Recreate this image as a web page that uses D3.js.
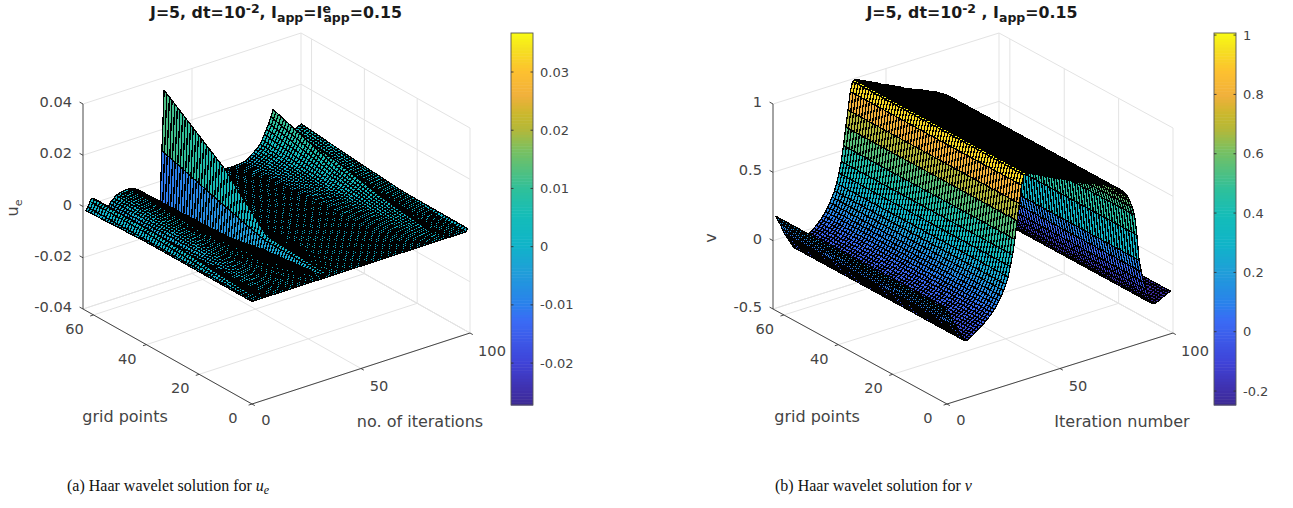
<!DOCTYPE html>
<html>
<head>
<meta charset="utf-8">
<script src="https://cdn.jsdelivr.net/npm/d3@7"></script>
<style>
  html, body { margin: 0; padding: 0; background: #fff; }
  text { font-family: "DejaVu Sans", sans-serif; fill: #444; }
</style>
</head>
<body>
<svg id="chart" width="1293" height="508"></svg>
<script>
// mesh axes
var iterations = d3.range(0, 100);
var gridPoints = d3.range(0, 64);

// u_e, one value per iteration
// the mesh rows between these grid lines are blended by a d3 scale
var ueStations = [0, 24, 40, 63];
var ueAtGrid0 = [
  0,0,0,0,0,0,0,0,0,0, 0,0,0,0,0,0,0,0,0,0, 0,0,0,0,0,0,0,0,0,0, 0,0,0,0,0,0,0,0,0,0,
  0,0,0,0,0,0,0,0,0,0, 0,0,0,0,0,0,0,0,0,0, 0,0,0,0,0,0,0,0,0,0, 0,0,0,0,0,0,0,0,0,0,
  0,0,0,0,0,0,0,0,0,0, 0,0,0,0,0,0,0,0,0,.001
];
var ueAtGrid24 = [
  0,0,.001,.002,.0015,0,-.0008,-.0014,-.0016,-.0016,
  -.0012,-.0006,-.0002,.0001,.0003,.0004,.0005,.0005,.0005,.0005,
  .0005,.0004,.0003,.0002,.0001,-.0001,-.0003,-.0005,-.0008,-.0012,
  -.0016,-.002,-.0024,-.0027,-.003,.0002,.0015,.0012,.0008,.0004,
  .0001,-.0001,-.0003,-.0005,-.0005,-.0005,-.0005,-.0005,-.0005,-.0005,
  -.0005,-.0005,-.0005,-.0005,-.0005,-.0005,-.0005,-.0005,-.0005,-.0005,
  -.0005,-.0005,-.0005,-.0005,-.0005,-.0005,-.0005,-.0005,-.0005,-.0005,
  -.0005,-.0005,-.0005,-.0004,-.0003,-.0002,-.0001,0,.0001,.0003,
  .0005,.0008,.0012,.0018,.0022,.0026,.0031,.0037,.0025,.0018,
  .0013,.001,.0008,.0008,.0008,.0009,.001,.0011,.0011,.0012
];
var ueAtGrid40 = [
  0,0,.002,.003,.0025,0,-.0015,-.0025,-.003,-.003,
  -.0022,-.001,-.0003,.0002,.0006,.0009,.001,.0012,.0012,.0012,
  .0012,.001,.0008,.0005,.0002,-.0002,-.0006,-.001,-.0016,-.0026,
  -.0038,-.0046,-.0055,-.0062,-.0065,.005,.0185,.013,.008,.004,
  .0015,.0003,-.0005,-.001,-.0012,-.0012,-.0012,-.0012,-.0012,-.0012,
  -.0012,-.0012,-.0012,-.0012,-.0012,-.0012,-.0012,-.0012,-.0012,-.0012,
  -.0012,-.0012,-.0012,-.0012,-.0012,-.0012,-.0012,-.0012,-.0012,-.0012,
  -.0012,-.0012,-.0012,-.001,-.0008,-.0005,-.0003,0,.0003,.0006,
  .001,.0016,.0025,.0036,.0045,.0053,.0064,.0075,.0055,.0042,
  .0032,.0024,.002,.0018,.0018,.002,.0022,.0024,.0026,.0027
];
var ueAtGrid63 = [
  -.001,0,.002,.003,.0025,0,-.002,-.003,-.004,-.004,
  -.003,-.0015,-.0005,.0003,.001,.0013,.0016,.0018,.0019,.002,
  .002,.0018,.0015,.001,.0004,-.0003,-.001,-.0017,-.0025,-.004,
  -.006,-.0075,-.009,-.0105,-.011,.0127,.036,.027,.017,.009,
  .004,.001,-.001,-.002,-.0025,-.0025,-.0025,-.0025,-.0025,-.0025,
  -.0025,-.0025,-.0025,-.0025,-.0025,-.0025,-.0025,-.0025,-.0025,-.0025,
  -.0025,-.0025,-.0025,-.0025,-.0025,-.0025,-.0025,-.0025,-.0025,-.0025,
  -.0024,-.0023,-.0022,-.002,-.0015,-.001,-.0003,.0003,.001,.0018,
  .0028,.0042,.006,.0078,.0098,.012,.0146,.011,.008,.006,
  .004,.003,.0025,.0025,.003,.0035,.004,.0045,.005,.0053
];

// v does not change along the grid points, so one profile per iteration
var vProfile = [
  .19,.155,.12,.08,.04,.01,-.02,-.05,-.08,-.078,
  -.07,-.06,-.05,-.035,-.022,-.01,.002,.015,.03,.047,
  .065,.085,.11,.135,.165,.2,.24,.29,.36,.44,
  .55,.68,.8,.93,1,1.005,1,.995,.985,.98,
  .97,.96,.955,.945,.935,.93,.92,.91,.905,.9,
  .89,.88,.875,.865,.855,.85,.84,.83,.825,.815,
  .81,.8,.795,.785,.78,.775,.765,.76,.75,.745,
  .74,.73,.72,.71,.7,.69,.68,.665,.65,.63,
  .6,.56,.51,.45,.3,.11,.02,-.06,-.12,-.17,
  -.21,-.24,-.24,-.235,-.23,-.22,-.21,-.2,-.195,-.19
];

// colour map, position along the colour bar and colour
var colorPos = [0, .04, .113, .228, .27, .36, .43, .51, .58, .685, .74, .78, .83, .895, .955, 1];
var colorHex = ['#3d2a94', '#3f30ac', '#3f43d8', '#3a6cf5', '#2a80ec', '#1f9fd8', '#10b4c8', '#14bdb8',
  '#2fc09a', '#7ac060', '#b4b83a', '#c9b82c', '#f0b03c', '#fdc030', '#f5e020', '#f9fb14'];

// tick labels
var xTicks = [0, 50, 100];
var yTicks = [0, 20, 40, 60];
var ueZTicks = [-0.04, -0.02, 0, 0.02, 0.04];
var ueBarTicks = [-0.02, -0.01, 0, 0.01, 0.02, 0.03];
var vZTicks = [-0.5, 0, 0.5, 1];
var vBarTicks = [-0.2, 0, 0.2, 0.4, 0.6, 0.8, 1];

var svg = d3.select('#chart');
var line = d3.line();

function ueRows() {
  return gridPoints.map(function(g) {
    return iterations.map(function(_, i) {
      return d3.scaleLinear().domain(ueStations)
        .range([ueAtGrid0[i], ueAtGrid24[i], ueAtGrid40[i], ueAtGrid63[i]])(g);
    });
  });
}

function vRows() {
  return gridPoints.map(function() { return vProfile; });
}

function drawPanel(p) {
  var g = svg.append('g');

  // box corners come from the origin and these three scales
  var xH = d3.scaleLinear().domain([0, 100]).range([0, p.xVec[0]]);
  var xV = d3.scaleLinear().domain([0, 100]).range([0, p.xVec[1]]);
  var yH = d3.scaleLinear().domain([0, 64]).range([0, p.yVec[0]]);
  var yV = d3.scaleLinear().domain([0, 64]).range([0, p.yVec[1]]);
  var zV = d3.scaleLinear().domain(p.zLim).range([0, -205]);

  function proj(x, y, z) {
    return [p.ox + xH(x) + yH(y), p.oy + xV(x) + yV(y) + zV(z)];
  }

  // walls and floor
  var grid = g.append('g').attr('stroke', '#e3e3e3').attr('stroke-width', 1).attr('fill', 'none');
  var zTop = p.zLim[1], zBot = p.zLim[0];
  var gridLines = [];
  p.zTicks.forEach(function(z) {
    gridLines.push([proj(0, 64, z), proj(100, 64, z)]);
    gridLines.push([proj(100, 64, z), proj(100, 0, z)]);
  });
  xTicks.forEach(function(x) {
    gridLines.push([proj(x, 0, zBot), proj(x, 64, zBot)]);
    if (x > 0) gridLines.push([proj(x, 64, zBot), proj(x, 64, zTop)]);
  });
  yTicks.forEach(function(y) {
    gridLines.push([proj(0, y, zBot), proj(100, y, zBot)]);
    if (y > 0) gridLines.push([proj(100, y, zBot), proj(100, y, zTop)]);
  });
  gridLines.push([proj(100, 0, zBot), proj(100, 0, zTop)]);
  gridLines.push([proj(0, 64, zBot), proj(100, 64, zBot)]);
  gridLines.push([proj(100, 64, zBot), proj(100, 0, zBot)]);
  grid.selectAll('path').data(gridLines).join('path').attr('d', line);

  // surface, far cells first so nearer ones paint over them
  var rows = p.rows;
  var color = d3.scaleLinear()
    .domain(colorPos.map(function(t) { return p.barLim[0] + t * (p.barLim[1] - p.barLim[0]); }))
    .range(colorHex).clamp(true);
  var cells = [];
  for (var i = iterations.length - 2; i >= 0; i--) {
    for (var j = gridPoints.length - 2; j >= 0; j--) {
      cells.push({i: i, j: j});
    }
  }
  g.append('g').attr('stroke', '#000').attr('stroke-width', 1.3).attr('stroke-linejoin', 'round')
    .attr('shape-rendering', 'crispEdges')
    .selectAll('path').data(cells).join('path')
    .attr('fill', function(d) { return color(rows[d.j][d.i]); })
    .attr('d', function(d) {
      var x0 = iterations[d.i], x1 = iterations[d.i + 1], y0 = gridPoints[d.j], y1 = gridPoints[d.j + 1];
      return line([proj(x0, y0, rows[d.j][d.i]), proj(x1, y0, rows[d.j][d.i + 1]),
        proj(x1, y1, rows[d.j + 1][d.i + 1]), proj(x0, y1, rows[d.j + 1][d.i])]) + 'Z';
    });

  // axis lines and ticks
  var ax = g.append('g').attr('stroke', '#333').attr('stroke-width', 0.9).attr('fill', 'none');
  var axisLines = [
    [proj(0, 0, zBot), proj(100, 0, zBot)],
    [proj(0, 0, zBot), proj(0, 64, zBot)],
    [proj(0, 64, zBot), proj(0, 64, zTop)]
  ];
  xTicks.forEach(function(x) {
    var a = proj(x, 0, zBot);
    axisLines.push([a, [a[0] + 2.8, a[1] + 1.6]]);
  });
  yTicks.forEach(function(y) {
    var a = proj(0, y, zBot);
    axisLines.push([a, [a[0] - 3.4, a[1] + 1.1]]);
  });
  p.zTicks.forEach(function(z) {
    var a = proj(0, 64, z);
    axisLines.push([a, [a[0] - 3.4, a[1] - 1.9]]);
  });
  ax.selectAll('path').data(axisLines).join('path').attr('d', line);

  // tick labels
  var fs = 14.6;
  xTicks.forEach(function(x, k) {
    var a = proj(x, 0, zBot);
    g.append('text').attr('x', a[0] + 14 + k * 4).attr('y', a[1] + 21 + k * 1)
      .attr('text-anchor', 'middle').attr('font-size', fs).text(x);
  });
  yTicks.forEach(function(y) {
    var a = proj(0, y, zBot);
    g.append('text').attr('x', a[0] - 19).attr('y', a[1] + 19)
      .attr('text-anchor', 'middle').attr('font-size', fs).text(y);
  });
  p.zTicks.forEach(function(z) {
    var a = proj(0, 64, z);
    g.append('text').attr('x', a[0] - 11).attr('y', a[1] + 3)
      .attr('text-anchor', 'end').attr('font-size', fs).text(z);
  });

  // axis titles
  g.append('text').attr('x', p.yLabel[0]).attr('y', p.yLabel[1]).attr('font-size', 16)
    .attr('text-anchor', 'middle').text('grid points');
  g.append('text').attr('x', p.xLabel[0]).attr('y', p.xLabel[1]).attr('font-size', 16)
    .attr('text-anchor', 'middle').text(p.xTitle);
  var zl = g.append('text').attr('font-size', 16).attr('text-anchor', 'middle')
    .attr('transform', 'translate(' + p.zLabel[0] + ',' + p.zLabel[1] + ') rotate(-90)');
  zl.append('tspan').text(p.zTitle);
  if (p.zSub) zl.append('tspan').attr('dy', 4).attr('font-size', 11).text(p.zSub);

  // colour bar
  var barY = d3.scaleLinear().domain(p.barLim).range([405, 33]);
  var steps = d3.range(0, 128);
  g.append('g').selectAll('rect').data(steps).join('rect')
    .attr('x', p.barX).attr('width', 22)
    .attr('y', function(s) { return 33 + s * 372 / 128; })
    .attr('height', 372 / 128 + 0.5)
    .attr('fill', function(s) { return color(barY.invert(33 + (s + 0.5) * 372 / 128)); });
  g.append('rect').attr('x', p.barX).attr('y', 33).attr('width', 22).attr('height', 372)
    .attr('fill', 'none').attr('stroke', '#555').attr('stroke-width', 0.9);
  p.barTicks.forEach(function(t) {
    var yy = barY(t);
    g.append('path').attr('d', line([[p.barX + 22, yy], [p.barX + 19.5, yy]])).attr('stroke', '#333').attr('stroke-width', 0.9);
    g.append('path').attr('d', line([[p.barX, yy], [p.barX + 2.5, yy]])).attr('stroke', '#333').attr('stroke-width', 0.9);
    g.append('text').attr('x', p.barX + 29).attr('y', yy + 4.5).attr('font-size', 13).text(t);
  });

  // title
  var tt = g.append('text').attr('x', p.titleX).attr('y', 18).attr('text-anchor', 'middle')
    .attr('font-size', 15.8).attr('font-weight', 'bold').style('fill', '#1a1a1a');
  p.title.forEach(function(s) {
    var sp = tt.append('tspan').text(s.t);
    if (s.dy) sp.attr('dy', s.dy);
    if (s.dx) sp.attr('dx', s.dx);
    if (s.small) sp.attr('font-size', 12.5);
  });

  // caption under the panel
  var cap = g.append('text').attr('x', p.capX).attr('y', 491).attr('font-size', 16)
    .style('font-family', '"Liberation Serif", serif').style('fill', '#111');
  cap.append('tspan').text(p.capText);
  cap.append('tspan').attr('font-style', 'italic').text(p.capMath);
  if (p.capSub) cap.append('tspan').attr('font-style', 'italic').attr('font-size', 12).attr('dy', 3).text(p.capSub);
}

drawPanel({
  ox: 252, oy: 404, xVec: [218, -71], yVec: [-169, -95], zLim: [-0.04, 0.04],
  rows: ueRows(), zTicks: ueZTicks, barLim: [-0.0272, 0.0367], barTicks: ueBarTicks, barX: 511,
  xTitle: 'no. of iterations', xLabel: [420, 427], yLabel: [125, 422], zTitle: 'u', zSub: 'e', zLabel: [18, 208],
  titleX: 276,
  title: [{t: 'J=5, dt=10'}, {t: '-2', small: 1, dy: -5}, {t: ', I', dy: 5}, {t: 'app', small: 1, dy: 4},
    {t: '=I', dy: -4}, {t: 'e', small: 1, dy: -5}, {t: 'app', small: 1, dy: 9, dx: -7.5}, {t: '=0.15', dy: -4}],
  capX: 67, capText: '(a) Haar wavelet solution for ', capMath: 'u', capSub: 'e'
});

drawPanel({
  ox: 947, oy: 404, xVec: [226, -71], yVec: [-174, -95], zLim: [-0.5, 1],
  rows: vRows(), zTicks: vZTicks, barLim: [-0.247, 1.007], barTicks: vBarTicks, barX: 1214,
  xTitle: 'Iteration number', xLabel: [1122, 427], yLabel: [817, 422], zTitle: 'v', zLabel: [716, 238],
  titleX: 972,
  title: [{t: 'J=5, dt=10'}, {t: '-2', small: 1, dy: -5}, {t: ' , I', dy: 5}, {t: 'app', small: 1, dy: 4}, {t: '=0.15', dy: -4}],
  capX: 775, capText: '(b) Haar wavelet solution for ', capMath: 'v'
});
</script>
</body>
</html>
